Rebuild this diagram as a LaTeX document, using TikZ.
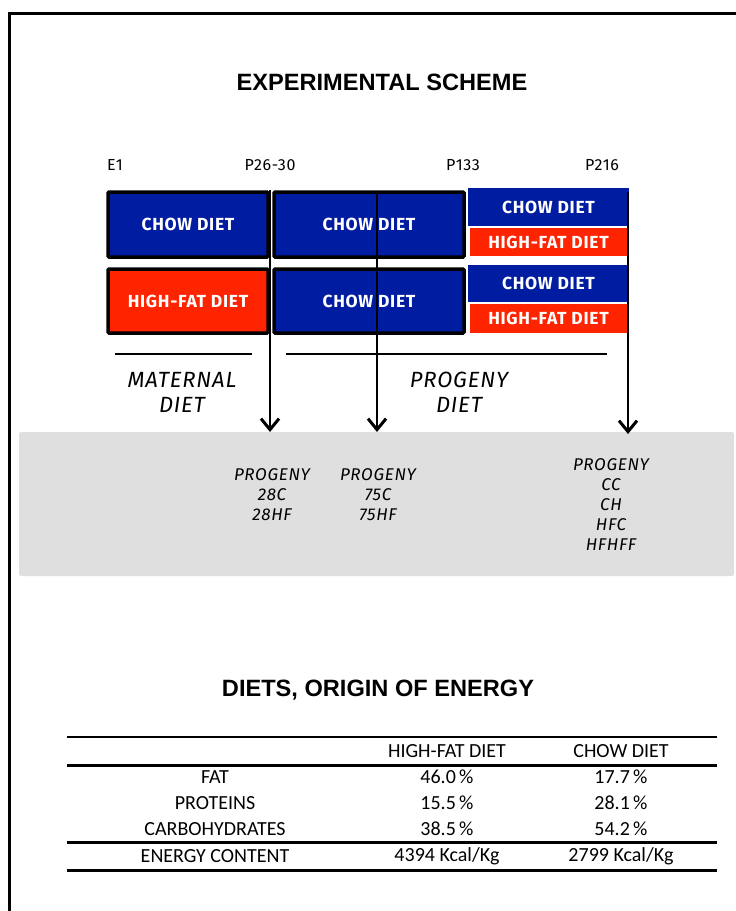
\documentclass[tikz,border=0pt]{standalone}
\usepackage{fontspec}
\setmainfont{Liberation Sans}
\newfontfamily\comicfont{Fira Sans}[LetterSpace=4]
\newfontfamily\tabfont{Carlito}
\usetikzlibrary{arrows.meta}
\definecolor{dietblue}{RGB}{0,28,160}
\definecolor{dietred}{RGB}{255,36,0}
\definecolor{panelgray}{RGB}{223,223,223}
\tikzset{
  dietbox/.style={draw=black, line width=3.5pt, rounded corners=1pt, text=white, inner sep=0pt,
    font=\comicfont\bfseries\fontsize{17.5}{19}\selectfont},
  subbox/.style={text=white, inner sep=0pt, font=\comicfont\bfseries\fontsize{17.5}{19}\selectfont},
  timelbl/.style={font=\comicfont\fontsize{16}{18}\selectfont},
  phaselbl/.style={font=\comicfont\itshape\fontsize{22}{25}\selectfont, align=center},
  proglbl/.style={font=\comicfont\itshape\fontsize{17}{20}\selectfont, align=center, anchor=north},
  timearrow/.style={line width=2.6pt, -{Straight Barb[length=11pt,width=18pt,line width=3pt]}},
  rulethick/.style={line width=3pt},
  rulethin/.style={line width=1.5pt},
  tabtxt/.style={font=\tabfont\fontsize{20}{22}\selectfont, inner sep=0pt},
  titletxt/.style={font=\bfseries\fontsize{23.6}{27}\selectfont}
}
\begin{document}
\begin{tikzpicture}[x=1pt,y=-1pt]
\useasboundingbox (0,0) rectangle (736,911);
% frame
\draw[line width=3pt] (9,936) -- (9,13) -- (760,13);

\node[titletxt] (title) at (382,82) {EXPERIMENTAL SCHEME};

% time labels
\node[timelbl] (e1) at (115,165) {E1};
\node[timelbl] (p26) at (270,165) {P26-30};
\node[timelbl] (p133) at (463,165) {P133};
\node[timelbl] (p216) at (602,165) {P216};

% gray panel
\node[fill=panelgray, rounded corners=2pt, minimum width=715pt, minimum height=144pt, inner sep=0pt] (panel) at (376.5,504) {};

% row 1
\node[dietbox, fill=dietblue, minimum width=160pt, minimum height=65pt] (r1a) at (188,224.5) {CHOW DIET};
\node[dietbox, fill=dietblue, minimum width=190pt, minimum height=65pt] (r1b) at (369,224.5) {CHOW DIET};
\node[subbox, fill=dietblue, minimum width=161pt, minimum height=38pt] (r1c) at (548.5,207) {CHOW DIET};
\node[subbox, fill=dietred, minimum width=157pt, minimum height=28pt] (r1d) at (548.5,242) {HIGH-FAT DIET};
% row 2
\node[dietbox, fill=dietred, minimum width=160pt, minimum height=64pt] (r2a) at (188,301) {HIGH-FAT DIET};
\node[dietbox, fill=dietblue, minimum width=190pt, minimum height=64pt] (r2b) at (369,301) {CHOW DIET};
\node[subbox, fill=dietblue, minimum width=161pt, minimum height=37pt] (r2c) at (548.5,283.5) {CHOW DIET};
\node[subbox, fill=dietred, minimum width=157pt, minimum height=29pt] (r2d) at (548.5,318.5) {HIGH-FAT DIET};

% arrows
\coordinate (a1s) at (270,190); \coordinate (a1e) at (270,432);
\coordinate (a2s) at (377,192); \coordinate (a2e) at (377,432);
\coordinate (a3s) at (628,192); \coordinate (a3e) at (628,434);
\draw[timearrow] (a1s) -- (a1e);
\draw[timearrow] (a2s) -- (a2e);
\draw[timearrow] (a3s) -- (a3e);

% phase bars
\coordinate (m1) at (115,354); \coordinate (m2) at (252,354);
\coordinate (q1) at (286,354); \coordinate (q2) at (607,354);
\draw[line width=2.5pt] (m1) -- (m2);
\draw[line width=2.5pt] (q1) -- (q2);
\node[phaselbl] (mat) at (182,392) {MATERNAL\\DIET};
\node[phaselbl] (prog) at (459,392) {PROGENY\\DIET};

% progeny groups
\node[proglbl] (g1) at (272,465) {PROGENY\\28C\\28HF};
\node[proglbl] (g2) at (378,465) {PROGENY\\75C\\75HF};
\node[proglbl] (g3) at (611,455) {PROGENY\\CC\\CH\\HFC\\HFHFF};

% second title
\node[titletxt] (title2) at (378,690) {DIETS, ORIGIN OF ENERGY};

% table
\coordinate (tl1) at (67,737);  \coordinate (tr1) at (717,737);
\coordinate (tl2) at (67,765);  \coordinate (tr2) at (717,765);
\coordinate (tl3) at (67,842);  \coordinate (tr3) at (717,842);
\coordinate (tl4) at (67,870);  \coordinate (tr4) at (717,870);
\draw[rulethin] (tl1) -- (tr1);
\draw[rulethick] (tl2) -- (tr2);
\draw[rulethick] (tl3) -- (tr3);
\draw[rulethick] (tl4) -- (tr4);

\node[tabtxt] (h1) at (447,751) {HIGH-FAT DIET};
\node[tabtxt] (h2) at (621,751) {CHOW DIET};
\node[tabtxt] (c1) at (215,777) {FAT};
\node[tabtxt] (c2) at (215,803) {PROTEINS};
\node[tabtxt] (c3) at (215,829) {CARBOHYDRATES};
\node[tabtxt] (c4) at (215,856) {ENERGY CONTENT};
\node[tabtxt] (d11) at (447,777) {46.0\,\%};
\node[tabtxt] (d21) at (447,803) {15.5\,\%};
\node[tabtxt] (d31) at (447,829) {38.5\,\%};
\node[tabtxt] (d41) at (447,856) {4394 Kcal/Kg};
\node[tabtxt] (d12) at (621,777) {17.7\,\%};
\node[tabtxt] (d22) at (621,803) {28.1\,\%};
\node[tabtxt] (d32) at (621,829) {54.2\,\%};
\node[tabtxt] (d42) at (621,856) {2799 Kcal/Kg};
\end{tikzpicture}
\end{document}
